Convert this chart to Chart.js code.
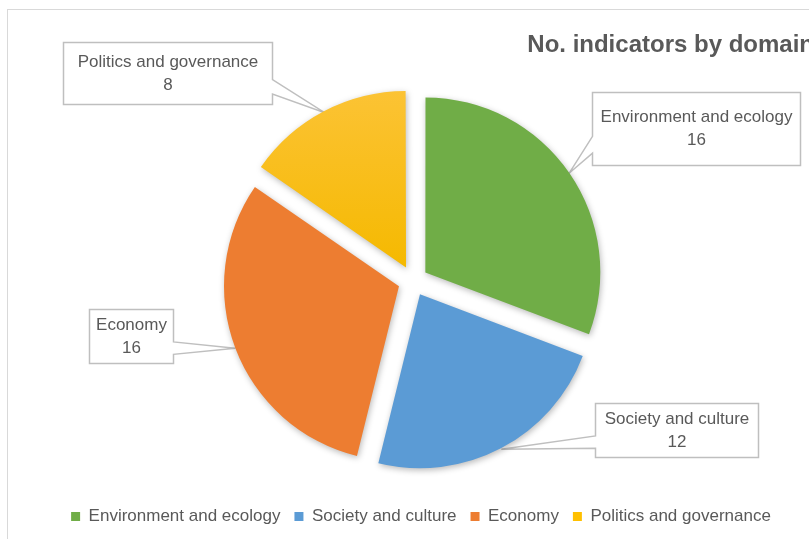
<!DOCTYPE html>
<html>
<head>
<meta charset="utf-8">
<script src="https://cdn.jsdelivr.net/npm/chart.js@4.4.1/dist/chart.umd.min.js"></script>
<style>
  html, body { margin: 0; padding: 0; background: #fff; overflow: hidden; }
  #wrap { position: absolute; left: 7px; top: 9px; width: 806px; height: 545px; border: 1px solid #d9d9d9; }
</style>
</head>
<body>
<div id="wrap"><canvas id="pie"></canvas></div>
<script>
const domains = ['Environment and ecology', 'Society and culture', 'Economy', 'Politics and governance'];
const indicatorCounts = [16, 12, 16, 8];
const sliceColors = ['#70AD47', '#5B9BD5', '#ED7D31', '#FFC000'];

// callout boxes, canvas px: [x, y, w, h, side facing the pie]
const calloutBoxes = [
    [584, 82, 208, 73, 'left'],
    [587, 393, 163, 54, 'left'],
    [81, 299, 84, 54, 'right'],
    [55, 32, 209, 62, 'right']
];

const FONT = '"Liberation Sans", Arial, sans-serif';
Chart.defaults.font.family = FONT;

// Excel style callout labels, drawn under the slices so the pointer tips tuck in
const calloutPlugin = {
    id: 'callouts',
    beforeDatasetsDraw(chart) {
        const ctx = chart.ctx;
        const arcs = chart.getDatasetMeta(0).data;
        ctx.save();
        arcs.forEach((arc, i) => {
            const [x0, y0, bw, bh, side] = calloutBoxes[i];
            const bx = x0 + 0.5, by = y0 + 0.5;
            const mid = (arc.startAngle + arc.endAngle) / 2;
            const r = arc.outerRadius + arc.options.offset / 4 + 1;
            const tx = arc.x + Math.cos(mid) * r;
            const ty = arc.y + Math.sin(mid) * r;
            const b1 = by + bh * 0.6, b2 = by + bh * 0.83;

            ctx.beginPath();
            if (side === 'left') {
                ctx.moveTo(bx, by);
                ctx.lineTo(bx + bw, by);
                ctx.lineTo(bx + bw, by + bh);
                ctx.lineTo(bx, by + bh);
                ctx.lineTo(bx, b2);
                ctx.lineTo(tx, ty);
                ctx.lineTo(bx, b1);
            } else {
                ctx.moveTo(bx, by);
                ctx.lineTo(bx + bw, by);
                ctx.lineTo(bx + bw, b1);
                ctx.lineTo(tx, ty);
                ctx.lineTo(bx + bw, b2);
                ctx.lineTo(bx + bw, by + bh);
                ctx.lineTo(bx, by + bh);
            }
            ctx.closePath();
            ctx.fillStyle = '#ffffff';
            ctx.fill();
            ctx.strokeStyle = '#bfbfbf';
            ctx.lineWidth = 1.5;
            ctx.stroke();

            ctx.fillStyle = '#595959';
            ctx.font = '17px ' + FONT;
            ctx.textAlign = 'center';
            ctx.textBaseline = 'middle';
            const cx = bx + bw / 2, cy = by + bh / 2;
            ctx.fillText(domains[i], cx, cy - 11.5);
            ctx.fillText(String(indicatorCounts[i]), cx, cy + 11.5);
        });
        ctx.restore();
    }
};

// soft drop shadow under the slices
const shadowPlugin = {
    id: 'sliceShadow',
    beforeDatasetsDraw(chart) {
        const c = chart.ctx;
        c.save();
        c.shadowColor = 'rgba(0,0,0,0.28)';
        c.shadowBlur = 6;
        c.shadowOffsetX = 1;
        c.shadowOffsetY = 2;
    },
    afterDatasetsDraw(chart) {
        chart.ctx.restore();
    }
};

// legend sits a little right of the pie centre in the original
const legendNudge = {
    id: 'legendNudge',
    afterLayout(chart) {
        chart.legend.left += 8;
        chart.legend.right += 8;
    }
};

const ctx = document.getElementById('pie').getContext('2d');
new Chart(ctx, {
    type: 'pie',
    data: {
        labels: domains,
        datasets: [{
            data: indicatorCounts,
            backgroundColor(c) {
                const base = sliceColors[c.dataIndex];
                const area = c.chart.chartArea;
                if (c.dataIndex !== 3 || !area) return base;
                const g = c.chart.ctx.createLinearGradient(0, area.top, 0, (area.top + area.bottom) / 2);
                g.addColorStop(0, '#FDC53F');
                g.addColorStop(1, '#F5B900');
                return g;
            },
            borderWidth: 0,
            offset: 60,
            radius: 174
        }]
    },
    options: {
        responsive: true,
        maintainAspectRatio: false,
        animation: false,
        layout: { padding: { left: 4, bottom: 20 } },
        plugins: {
            title: {
                display: true,
                text: 'No. indicators by domain',
                align: 'end',
                color: '#595959',
                font: { size: 24, weight: 'bold' },
                padding: { top: 21, bottom: 8 }
            },
            legend: {
                position: 'bottom',
                labels: {
                    boxWidth: 9,
                    boxHeight: 9,
                    padding: 14,
                    color: '#595959',
                    font: { size: 17 },
                    generateLabels(chart) {
                        return domains.map((d, i) => ({
                            text: d,
                            fillStyle: sliceColors[i],
                            strokeStyle: sliceColors[i],
                            fontColor: '#595959',
                            lineWidth: 0,
                            index: i
                        }));
                    }
                }
            },
            tooltip: { enabled: false }
        }
    },
    plugins: [calloutPlugin, shadowPlugin, legendNudge]
});
</script>
</body>
</html>
